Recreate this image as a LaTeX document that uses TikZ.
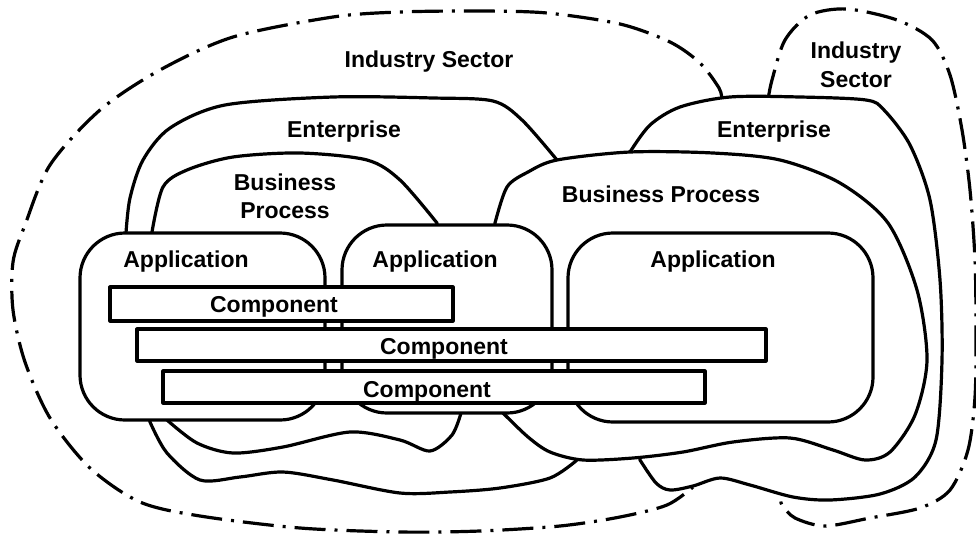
\documentclass[tikz,border=0pt]{standalone}
\usepackage{fontspec}
\setmainfont{Liberation Sans}
\begin{document}
\begin{tikzpicture}[x=1pt,y=-1pt,
  outline/.style={draw=black, fill=white, line width=3.2pt, line join=round},
  sector/.style={draw=black, line width=3.2pt, dash pattern=on 31pt off 9pt on 3pt off 9pt},
  appbox/.style={outline, rounded corners=45pt, inner sep=0pt},
  compbox/.style={outline, inner sep=0pt},
  lbl/.style={font=\fontsize{23}{28}\selectfont\bfseries, inner sep=0pt, anchor=base},
  curve/.style={smooth, tension=0.5},
]
\useasboundingbox (0,0) rectangle (976,533);

% industry sectors (dash-dot outlines, open ends meet the right enterprise)
\draw[sector] plot[curve] coordinates {(722,100) (719,88) (700,63) (670,42) (620,24)
  (547,13) (480,11) (400,12) (333,17) (233,37) (160,70) (100,110)
  (50,165) (25,225) (13,262) (13,310) (25,362) (50,418) (90,468) (140,502) (200,516)
  (300,528) (400,532) (480,531) (560,526) (620,517) (667,505) (693,487)};
\draw[sector] plot[curve] coordinates {(768,100) (772,80) (785,40) (810,15) (847,9)
  (897,20) (932,40) (950,75) (962,130) (970,190) (975,260) (976,330)
  (975,397) (968,450) (950,490) (920,508) (870,518) (825,526)
  (795,518) (782,505) (781,499)};

% enterprise (left)
\draw[outline] plot[curve] coordinates {(126,233) (130,198) (143,160) (170,128)
  (225,105) (333,97) (433,98) (493,101) (522,120) (557,160)}
  -- (585,250)
  -- plot[curve] coordinates {(577,460) (550,478) (500,488) (450,492) (400,493)
  (333,480) (283,472) (240,477) (200,480) (167,453) (150,422)}
  -- (130,330) -- cycle;

% enterprise (right)
\draw[outline] plot[curve] coordinates {(630,152) (650,125) (680,107) (730,97)
  (800,97) (866,100) (884,110) (910,145) (930,200) (940,280) (942,360)
  (936,440) (915,477) (880,494) (830,500) (793,497) (750,485) (720,478)
  (693,486) (670,490) (656,483) (640,460)}
  -- (620,300) -- cycle;

% business process (left)
\draw[outline] plot[curve] coordinates {(152,232) (163,187) (187,170) (233,157)
  (300,153) (367,160) (400,180) (437,223)}
  -- (420,320)
  -- plot[curve] coordinates {(461,413) (452,435) (430,451) (400,440) (350,432)
  (283,447) (233,453) (197,443) (167,420)}
  -- (130,330) -- cycle;

% business process (right)
\draw[outline] plot[curve] coordinates {(495,223) (507,187) (528,172) (557,160)
  (630,152) (713,153) (780,160) (840,183) (888,223) (917,290) (927,360)
  (915,415) (890,452) (865,460) (833,450) (790,438) (733,442) (683,452)
  (633,458) (583,460) (550,452) (528,437) (503,413)}
  -- (485,320) -- cycle;

% applications
\node[appbox, minimum width=245pt, minimum height=187pt] (appL) at (202.5,326.5) {};
\node[appbox, minimum width=210pt, minimum height=188pt] (appM) at (447,319) {};
\node[appbox, minimum width=305pt, minimum height=189pt] (appR) at (720.5,327.5) {};

% components
\node[compbox, minimum width=343pt, minimum height=34pt] (comp1) at (281.5,304) {};
\node[compbox, minimum width=629pt, minimum height=32pt] (comp2) at (451.5,345) {};
\node[compbox, minimum width=542pt, minimum height=32pt] (comp3) at (434,387) {};

% labels
\node[lbl] (isL) at (429,67) {Industry Sector};
\node[lbl] (isR1) at (856,58) {Industry};
\node[lbl] (isR2) at (856,87) {Sector};
\node[lbl] (entL) at (344,137) {Enterprise};
\node[lbl] (entR) at (774,137) {Enterprise};
\node[lbl] (bpL1) at (285,190) {Business};
\node[lbl] (bpL2) at (285,218) {Process};
\node[lbl] (bpR) at (661,202) {Business Process};
\node[lbl] (appLt) at (186,267) {Application};
\node[lbl] (appMt) at (435,267) {Application};
\node[lbl] (appRt) at (713,267) {Application};
\node[lbl] (comp1t) at (274,312) {Component};
\node[lbl] (comp2t) at (444,354) {Component};
\node[lbl] (comp3t) at (427,397) {Component};
\end{tikzpicture}
\end{document}
